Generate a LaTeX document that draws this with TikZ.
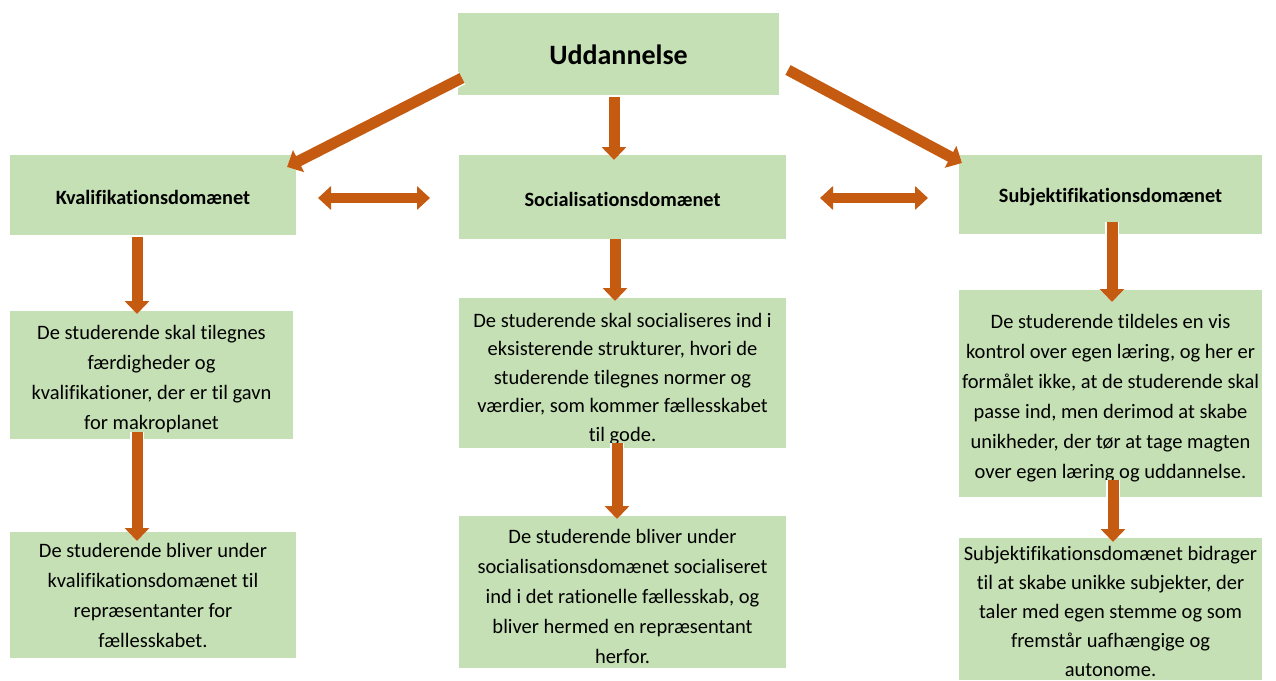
\documentclass[tikz,border=0pt]{standalone}
\usepackage{fontspec}
\setmainfont{Carlito}[Ligatures={NoCommon}]
\usetikzlibrary{arrows.meta}
\definecolor{boxgreen}{RGB}{197,224,180}
\definecolor{arrorange}{RGB}{197,90,17}
\tikzset{
  box/.style={fill=boxgreen, draw=none, inner sep=0pt},
  txt/.style={inner sep=0pt, align=center, text=black, font=\fontsize{20.5}{30}\selectfont},
  ttl/.style={inner sep=0pt, align=center, text=black, font=\fontsize{20.3}{24}\selectfont\bfseries},
  arrbg/.style={draw=white, line width=14pt, -{Triangle[length=15pt,width=28pt]}},
  arrfg/.style={draw=arrorange, line width=11pt, -{Triangle[length=13pt,width=24pt]}},
  darrbg/.style={draw=white, line width=13pt, {Triangle[length=15pt,width=27pt]}-{Triangle[length=15pt,width=27pt]}},
  darrfg/.style={draw=arrorange, line width=10pt, {Triangle[length=13pt,width=23pt]}-{Triangle[length=13pt,width=23pt]}},
}
\begin{document}
\begin{tikzpicture}[x=1pt,y=-1pt]
\useasboundingbox (0,0) rectangle (1276,680);
\fill[white] (0,0) rectangle (1276,680);

% boxes
\node[box, minimum width=321pt, minimum height=82pt] (udd) at (618.5,54) {};
\node[box, minimum width=286pt, minimum height=80pt] (kval) at (153,195) {};
\node[box, minimum width=327pt, minimum height=84pt] (soc) at (622.5,197) {};
\node[box, minimum width=303pt, minimum height=79pt] (sub) at (1110.5,194.5) {};
\node[box, minimum width=283pt, minimum height=128pt] (l2) at (151.5,375) {};
\node[box, minimum width=327pt, minimum height=150pt] (m2) at (622.5,373) {};
\node[box, minimum width=303pt, minimum height=207pt] (r2) at (1110.5,393.5) {};
\node[box, minimum width=286pt, minimum height=126pt] (l3) at (153,595) {};
\node[box, minimum width=327pt, minimum height=152pt] (m3) at (622.5,592) {};
\node[box, minimum width=303pt, minimum height=142pt] (r3) at (1110.5,609) {};

% texts
\node[ttl, font=\fontsize{28}{32}\selectfont\bfseries] (uddt) at ([yshift=-1pt]udd.center) {Uddannelse};
\node[ttl] (kvalt) at ([yshift=-2pt]kval.center) {Kvalifikationsdomænet};
\node[ttl] (soct) at ([yshift=-2pt]soc.center) {Socialisationsdomænet};
\node[ttl] (subt) at ([yshift=-3pt]sub.center) {Subjektifikationsdomænet};

\node[txt] (l2t) at ([yshift=-4pt]l2.center) {De studerende skal tilegnes\\færdigheder og\\kvalifikationer, der er til gavn\\for makroplanet};
\node[txt, font=\fontsize{20.5}{28.5}\selectfont] (m2t) at ([yshift=-6pt]m2.center) {De studerende skal socialiseres ind i\\eksisterende strukturer, hvori de\\studerende tilegnes normer og\\værdier, som kommer fællesskabet\\til gode.};
\node[txt] (r2t) at ([yshift=-5pt]r2.center) {De studerende tildeles en vis\\kontrol over egen læring, og her er\\formålet ikke, at de studerende skal\\passe ind, men derimod at skabe\\unikheder, der tør at tage magten\\over egen læring og uddannelse.};
\node[txt] (l3t) at (l3.center) {De studerende bliver under\\kvalifikationsdomænet til\\repræsentanter for\\fællesskabet.};
\node[txt] (m3t) at ([yshift=-4pt]m3.center) {De studerende bliver under\\socialisationsdomænet socialiseret\\ind i det rationelle fællesskab, og\\bliver hermed en repræsentant\\herfor.};
\node[txt, font=\fontsize{20.5}{29}\selectfont] (r3t) at ([yshift=-2pt]r3.center) {Subjektifikationsdomænet bidrager\\til at skabe unikke subjekter, der\\taler med egen stemme og som\\fremstår uafhængige og\\autonome.};

% arrow end points
\coordinate (a1s) at (462,78);   \coordinate (a1e) at (287,167);
\coordinate (a2s) at (788,70);   \coordinate (a2e) at (962,163);
\coordinate (a3s) at (614,97);   \coordinate (a3e) at (614,160);
\coordinate (v1s) at (137,237);  \coordinate (v1e) at (137,314);
\coordinate (v2s) at (137,432);  \coordinate (v2e) at (137,541);
\coordinate (v3s) at (615,239);  \coordinate (v3e) at (615,301);
\coordinate (v4s) at (617,443);  \coordinate (v4e) at (617,519);
\coordinate (v5s) at (1112,222); \coordinate (v5e) at (1112,302);
\coordinate (v6s) at (1113,480); \coordinate (v6e) at (1113,542);
\coordinate (d1s) at (318,198);  \coordinate (d1e) at (430,198);
\coordinate (d2s) at (820,198);  \coordinate (d2e) at (928,198);

\foreach \p in {a1,a2,a3,v1,v2,v3,v4,v5,v6}{
  \draw[arrbg] (\p s) -- (\p e);
  \draw[arrfg] (\p s) -- (\p e);
}
\foreach \p in {d1,d2}{
  \draw[darrbg] (\p s) -- (\p e);
  \draw[darrfg] (\p s) -- (\p e);
}
\end{tikzpicture}
\end{document}
